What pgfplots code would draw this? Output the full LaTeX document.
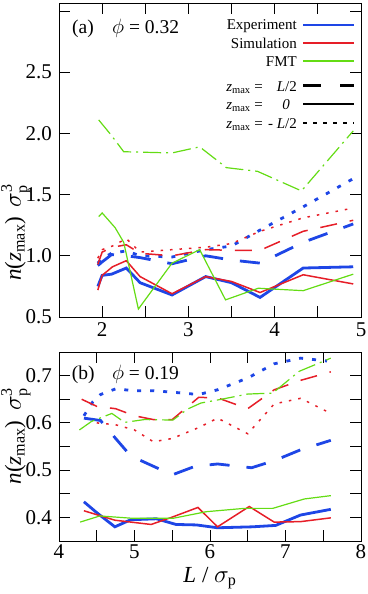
\documentclass[border=0pt]{standalone}
\usepackage{pgfplots}
\pgfplotsset{compat=1.18}
\usepackage{fontspec}
\setmainfont{Liberation Serif}
\definecolor{cexp}{RGB}{30,70,230}
\definecolor{csim}{RGB}{230,30,40}
\definecolor{cfmt}{RGB}{100,220,20}

\pgfplotsset{
  panel/.style={
    scale only axis, width=302pt, anchor=south west,
    axis line style={line width=0.9pt},
    every tick/.style={black, line width=0.9pt},
    major tick length=11pt, minor tick length=11pt,
    tick align=inside,
    tick label style={font=\fontsize{21}{24}\selectfont},
    yticklabel style={anchor=east, inner sep=0pt, xshift=-7pt},
    label style={font=\fontsize{23}{26}\selectfont},
  },
  exp/.style={cexp, line width=2.8pt},
  sim/.style={csim, line width=1.5pt},
  fmt/.style={cfmt, line width=1.2pt},
  dL/.style={dash pattern=on 20pt off 17pt},
  dS/.style={dash pattern=on 17pt off 13pt},
  dotE/.style={dash pattern=on 4pt off 9pt},
  dotS/.style={dash pattern=on 2.5pt off 7pt},
  dd/.style={dash pattern=on 18pt off 5pt on 2pt off 5pt},
}

\newcommand{\ylab}{\textit{n}(\textit{z}\textsubscript{max})\ \,$\sigma_{\mathrm{p}}^{\mathrm{3}}$}

\begin{document}
\begin{tikzpicture}
\useasboundingbox (0,0) rectangle (367pt,594pt);

% ---- panel (a), phi = 0.32
\begin{axis}[panel,
    at={(59pt,277pt)}, height=314pt,
    xmin=1.5, xmax=5, ymin=0.5, ymax=3.065,
    xtick={2,3,4,5}, xticklabels={2,3,4,5},
    minor xtick={2.5,3.5,4.5},
    xticklabel style={anchor=base, yshift=-20pt},
    ytick={0.5,1,1.5,2,2.5,3}, yticklabels={0.5,1.0,1.5,2.0,2.5,{}},
    ylabel={\ylab},
    ylabel style={at={(axis description cs:-0.143,0.27)}, anchor=center, inner sep=0pt},
  ]
  % Experiment
  \addplot[exp, dotE] coordinates {(1.95,0.94) (2.00,0.98) (2.11,1.02) (2.28,1.04) (2.44,1.00) (2.81,0.99) (3.20,1.05) (3.50,1.08) (3.83,1.21) (4.33,1.40) (4.91,1.63)};
  \addplot[exp, dL] coordinates {(1.95,0.92) (2.00,0.95) (2.11,1.01) (2.28,1.00) (2.44,0.985) (2.81,0.935) (3.20,1.00) (3.50,0.965) (3.83,0.94) (4.33,1.11) (4.91,1.26)};
  \addplot[exp] coordinates {(1.95,0.75) (2.00,0.84) (2.11,0.85) (2.28,0.90) (2.44,0.78) (2.81,0.68) (3.20,0.83) (3.50,0.78) (3.83,0.66) (4.33,0.90) (4.91,0.91)};
  % Simulation
  \addplot[sim, dotS] coordinates {(1.95,0.98) (2.00,1.05) (2.12,1.08) (2.28,1.14) (2.44,1.03) (2.81,1.05) (3.20,1.07) (3.50,1.10) (3.83,1.20) (4.33,1.31) (4.91,1.39)};
  \addplot[sim, dS] coordinates {(1.95,0.93) (2.00,1.03) (2.12,1.07) (2.28,1.09) (2.44,1.02) (2.81,1.00) (3.20,1.05) (3.50,1.045) (3.83,1.045) (4.33,1.20) (4.91,1.29)};
  \addplot[sim] coordinates {(1.95,0.72) (2.00,0.84) (2.12,0.91) (2.28,0.96) (2.44,0.83) (2.81,0.69) (3.20,0.83) (3.50,0.79) (3.83,0.70) (4.33,0.845) (4.91,0.77)};
  % FMT
  \addplot[fmt, dd] coordinates {(1.96,2.11) (2.10,1.99) (2.25,1.85) (2.81,1.84) (3.13,1.89) (3.44,1.72) (3.80,1.69) (4.31,1.53) (4.91,2.02)};
  \addplot[fmt] coordinates {(1.96,1.32) (2.00,1.35) (2.15,1.23) (2.25,1.11) (2.42,0.565) (2.81,0.94) (3.13,1.05) (3.43,0.64) (3.81,0.735) (4.33,0.715) (4.91,0.85)};

  % panel title
  \node[anchor=base west, inner sep=0pt, font=\fontsize{19.5}{22}\selectfont] at (rel axis cs:0.043,0.9035) {(a)};
  \node[anchor=base west, inner sep=0pt, font=\fontsize{19.5}{22}\selectfont] at (rel axis cs:0.1755,0.9035) {$\phi$ = 0.32};

  % legend
  \begin{scope}[every node/.style={anchor=base east, inner sep=0pt, font=\fontsize{15}{18}\selectfont}]
    \node at (rel axis cs:0.788,0.916) {Experiment};
    \node at (rel axis cs:0.788,0.856) {Simulation};
    \node at (rel axis cs:0.788,0.797) {FMT};
    \node at (rel axis cs:0.676,0.718) {\textit{z}\textsubscript{max} =};
    \node at (rel axis cs:0.676,0.661) {\textit{z}\textsubscript{max} =};
    \node at (rel axis cs:0.676,0.601) {\textit{z}\textsubscript{max} =};
    \node at (rel axis cs:0.788,0.718) {\textit{L}/2};
    \node at (rel axis cs:0.765,0.661) {\textit{0}};
    \node at (rel axis cs:0.788,0.601) {- \textit{L}/2};
  \end{scope}
  \draw[cexp, line width=2pt] (rel axis cs:0.808,0.931) -- (rel axis cs:0.977,0.931);
  \draw[csim, line width=2pt] (rel axis cs:0.808,0.873) -- (rel axis cs:0.977,0.873);
  \draw[cfmt, line width=2pt] (rel axis cs:0.808,0.814) -- (rel axis cs:0.977,0.814);
  \draw[black, line width=2.3pt, dash pattern=on 18pt off 19pt] (rel axis cs:0.808,0.737) -- (rel axis cs:0.977,0.737);
  \draw[black, line width=2.3pt] (rel axis cs:0.808,0.679) -- (rel axis cs:0.977,0.679);
  \draw[black, line width=2.3pt, dash pattern=on 3.5pt off 6.5pt] (rel axis cs:0.808,0.618) -- (rel axis cs:0.977,0.618);
\end{axis}

% ---- panel (b), phi = 0.19
\begin{axis}[panel,
    at={(59pt,53pt)}, height=189pt,
    xmin=4, xmax=8, ymin=0.35, ymax=0.75,
    xtick={4,5,6,7,8}, xticklabels={4,5,6,7,8},
    minor xtick={4.5,5.5,6.5,7.5},
    xticklabel style={anchor=base, yshift=-17pt},
    ytick={0.4,0.5,0.6,0.7}, yticklabels={0.4,0.5,0.6,0.7},
    minor ytick={0.45,0.55,0.65},
    ylabel={\ylab},
    ylabel style={at={(axis description cs:-0.143,0.556)}, anchor=center, inner sep=0pt},
    xlabel={\textit{L} / $\sigma_{\mathrm{p}}$},
    xlabel style={at={(axis description cs:0.5,-0.217)}, anchor=base},
  ]
  % Experiment
  \addplot[exp, dotE] coordinates {(4.33,0.615) (4.45,0.645) (4.55,0.66) (4.75,0.672) (5.00,0.668) (5.25,0.668) (5.50,0.665) (5.85,0.660) (6.10,0.670) (6.50,0.695) (6.85,0.725) (7.20,0.737) (7.55,0.731)};
  \addplot[exp, dL] coordinates {(4.33,0.61) (4.55,0.605) (4.75,0.567) (4.95,0.53) (5.50,0.49) (5.80,0.508) (6.10,0.513) (6.55,0.505) (6.85,0.52) (7.20,0.543) (7.60,0.563)};
  \addplot[exp] coordinates {(4.33,0.433) (4.50,0.41) (4.74,0.38) (4.95,0.395) (5.29,0.397) (5.55,0.385) (5.82,0.384) (6.10,0.378) (6.56,0.380) (6.87,0.383) (7.20,0.405) (7.60,0.417)};
  % Simulation
  \addplot[sim, dotS] coordinates {(4.50,0.60) (4.75,0.596) (5.00,0.585) (5.25,0.56) (5.50,0.567) (5.85,0.59) (6.10,0.61) (6.50,0.577) (6.85,0.64) (7.20,0.652) (7.60,0.62)};
  \addplot[sim, dS] coordinates {(4.30,0.65) (4.50,0.635) (4.75,0.63) (5.00,0.615) (5.25,0.607) (5.50,0.607) (5.85,0.654) (6.10,0.653) (6.50,0.630) (6.85,0.670) (7.20,0.690) (7.60,0.708)};
  \addplot[sim] coordinates {(4.33,0.414) (4.74,0.394) (5.22,0.385) (5.49,0.40) (5.84,0.421) (6.10,0.38) (6.52,0.423) (6.85,0.39) (7.20,0.391) (7.60,0.399)};
  % FMT
  \addplot[fmt, dd] coordinates {(4.27,0.585) (4.43,0.603) (4.70,0.62) (4.87,0.601) (5.13,0.607) (5.51,0.606) (5.70,0.629) (5.88,0.642) (6.12,0.649) (6.50,0.661) (6.83,0.663) (7.18,0.709) (7.60,0.737)};
  \addplot[fmt] coordinates {(4.28,0.39) (4.54,0.403) (4.98,0.398) (5.51,0.398) (5.95,0.412) (6.45,0.419) (6.83,0.419) (7.25,0.439) (7.60,0.446)};

  \node[anchor=base west, inner sep=0pt, font=\fontsize{19.5}{22}\selectfont] at (rel axis cs:0.042,0.852) {(b)};
  \node[anchor=base west, inner sep=0pt, font=\fontsize{19.5}{22}\selectfont] at (rel axis cs:0.175,0.852) {$\phi$ = 0.19};
\end{axis}
\end{tikzpicture}
\end{document}
